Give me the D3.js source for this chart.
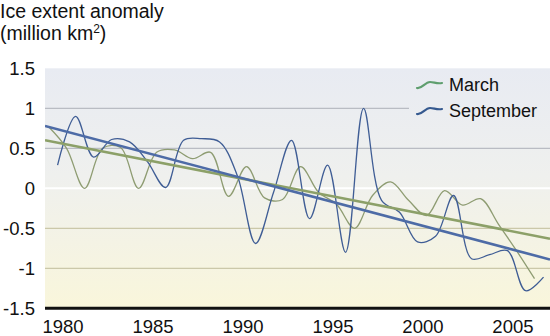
<!DOCTYPE html>
<html>
<head>
<meta charset="utf-8">
<script src="https://cdn.jsdelivr.net/npm/d3@7"></script>
<style>
  html, body { margin: 0; padding: 0; background: #fff; }
  svg { display: block; font-family: "Liberation Sans", Arial, Helvetica, sans-serif; }
</style>
</head>
<body>
<svg id="chart" width="550" height="336"></svg>
<script>
// ---- data ----
const years = [1979,1980,1981,1982,1983,1984,1985,1986,1987,1988,1989,1990,1991,1992,
               1993,1994,1995,1996,1997,1998,1999,2000,2001,2002,2003,2004,2005,2006];
const march = [0.77,0.5,0.0,0.5,0.51,0.0,0.45,0.48,0.37,0.45,-0.1,0.27,-0.12,-0.14,
               0.27,-0.05,-0.2,-0.5,-0.09,0.08,-0.15,-0.34,-0.03,-0.21,-0.13,-0.45,-0.78,-1.13];
const september = [0.29,0.9,0.39,0.61,0.58,0.33,0.01,0.6,0.62,0.58,0.15,-0.69,-0.05,0.6,
                   -0.38,0.29,-0.8,1.0,-0.15,-0.3,-0.67,-0.6,-0.09,-0.88,-0.83,-0.78,-1.28,-1.11];
const trendYears = [1979, 2007.06];
const marchTrend = [0.6, -0.63];
const septemberTrend = [0.78, -0.89];
const yTicks = [1.5, 1, 0.5, 0, -0.5, -1, -1.5];
const yTickLabels = ["1.5", "1", "0.5", "0", "-0.5", "-1", "-1.5"];
const xTicks = [1980, 1985, 1990, 1995, 2000, 2005];
const seriesNames = ["March", "September"];
const titleLines = ["Ice extent anomaly", "(million km", "2", ")"];

// ---- layout ----
const svg = d3.select("#chart");
const L = 45, R = 550, T = 68.3, B = 308.3;
const x = d3.scaleLinear().domain([1979, 2007.06]).range([L, R]);
const y = d3.scaleLinear().domain([-1.5, 1.5]).range([B, T]);
const marchOffset = 0.2, septOffset = 0.7;

const defs = svg.append("defs");
const grad = defs.append("linearGradient").attr("id", "bg")
  .attr("x1", 0).attr("y1", 0).attr("x2", 0).attr("y2", 1);
grad.append("stop").attr("offset", "0%").attr("stop-color", "#e8ebf2");
grad.append("stop").attr("offset", "45%").attr("stop-color", "#eff0ee");
grad.append("stop").attr("offset", "100%").attr("stop-color", "#f9f6db");

svg.append("rect").attr("x", L).attr("y", y(1.5)).attr("width", R - L)
  .attr("height", y(-1.5) - y(1.5)).attr("fill", "url(#bg)");

// gridlines
const gridColor = v => v === 0 ? "#ffffff" : (v > 0 ? "#b9bcc3" : "#cbc8a9");
svg.append("g").selectAll("line").data(yTicks.filter(v => v > -1.5 && v < 1.5)).join("line")
  .attr("x1", L)
  .attr("x2", v => v === 1 ? 409 : R)
  .attr("y1", v => y(v)).attr("y2", v => y(v))
  .attr("stroke", gridColor)
  .attr("stroke-width", v => v === 0 ? 2 : 1.3);

// axis baseline
svg.append("line").attr("x1", L).attr("x2", R).attr("y1", y(-1.5)).attr("y2", y(-1.5))
  .attr("stroke", "#111").attr("stroke-width", 3);

// y tick labels
svg.append("g").selectAll("text").data(yTicks).join("text")
  .attr("x", 35).attr("y", v => y(v)).attr("dy", "0.35em")
  .attr("text-anchor", "end").attr("font-size", 18.5).attr("fill", "#111")
  .text((v, i) => yTickLabels[i]);

// x tick labels
svg.append("g").selectAll("text").data(xTicks).join("text")
  .attr("x", v => x(v)).attr("y", 333)
  .attr("text-anchor", "middle").attr("font-size", 18.5).attr("fill", "#111")
  .text(v => v);

// title
svg.append("text").attr("x", 0).attr("y", 18).attr("font-size", 19.5).attr("fill", "#111")
  .text(titleLines[0]);
const t2 = svg.append("text").attr("x", 0).attr("y", 40).attr("font-size", 19.5).attr("fill", "#111");
t2.append("tspan").text(titleLines[1]);
t2.append("tspan").attr("font-size", 12).attr("dy", -7).text(titleLines[2]);
t2.append("tspan").attr("dy", 7).text(titleLines[3]);

// clip
defs.append("clipPath").attr("id", "clip").append("rect")
  .attr("x", L).attr("y", 0).attr("width", R - L).attr("height", B);

const line = d3.line().x(d => x(d[0])).y(d => y(d[1])).curve(d3.curveCatmullRom.alpha(0.5));
const straight = d3.line().x(d => x(d[0])).y(d => y(d[1]));

const g = svg.append("g").attr("clip-path", "url(#clip)");
g.append("path").datum(years.map((yr, i) => [yr + marchOffset, march[i]]))
  .attr("d", line).attr("fill", "none").attr("stroke", "#8e9c72").attr("stroke-width", 1.3);
g.append("path").datum(years.map((yr, i) => [yr + septOffset, september[i]]))
  .attr("d", line).attr("fill", "none").attr("stroke", "#3f5d95").attr("stroke-width", 1.3);
g.append("path").datum(trendYears.map((yr, i) => [yr, marchTrend[i]]))
  .attr("d", straight).attr("fill", "none").attr("stroke", "#8ca068").attr("stroke-width", 2.6);
g.append("path").datum(trendYears.map((yr, i) => [yr, septemberTrend[i]]))
  .attr("d", straight).attr("fill", "none").attr("stroke", "#4d6ba6").attr("stroke-width", 2.6);

// legend
const legendColors = ["#5e9e6e", "#35598f"];
const lg = svg.append("g").selectAll("g").data(seriesNames).join("g")
  .attr("transform", (d, i) => `translate(417, ${85 + i * 26})`);
lg.append("path").attr("d", "M0,3 C5,4 8,-3 13,-3 C17,-3 20,-1 25,-2")
  .attr("fill", "none").attr("stroke", (d, i) => legendColors[i]).attr("stroke-width", 2.2)
  .attr("stroke-linecap", "round");
lg.append("text").attr("x", 32).attr("dy", "0.35em").attr("font-size", 18).attr("fill", "#111")
  .text(d => d);
</script>
</body>
</html>
